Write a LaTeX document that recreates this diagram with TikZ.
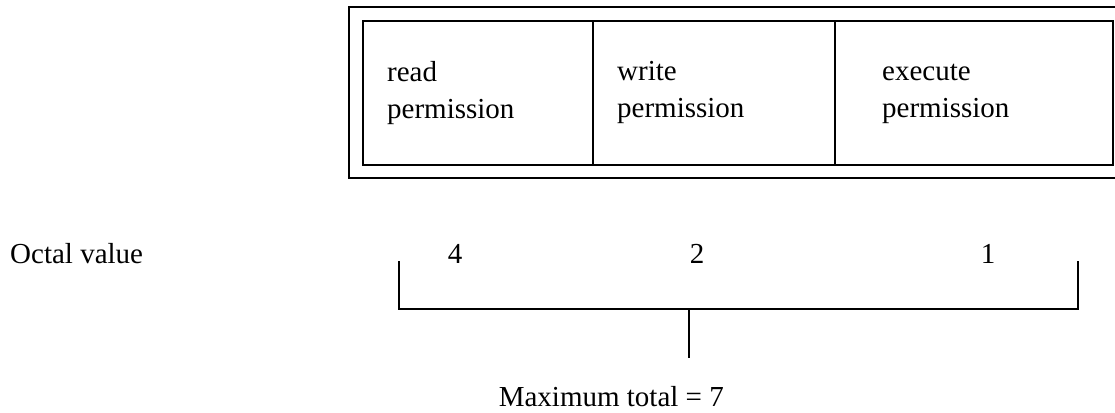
\documentclass[tikz,border=0pt]{standalone}
\usepackage{fontspec}
\setmainfont{Liberation Serif}
\begin{document}
\begin{tikzpicture}[x=1pt,y=-1pt,
  rule/.style={line width=1.7pt},
  cell/.style={draw, rule, rectangle, inner sep=0pt, anchor=north west,
    minimum height=144pt},
  txt/.style={font=\fontsize{29}{37}\selectfont, inner sep=0pt},
  lbl/.style={txt, anchor=base west, align=left},
  num/.style={txt, anchor=base}]
\useasboundingbox (0,0) rectangle (1115,412);

% outer frame (runs off the right edge)
\draw[rule, line join=miter] (1120,7) -- (349,7) -- (349,178) -- (1120,178);

% permission cells
\node[cell, minimum width=230pt] (rd) at (362,20) {};
\node[cell, minimum width=242pt] (wr) at (592,20) {};
\node[cell, minimum width=278pt] (ex) at (834,20) {};

% cell captions, placed by the baseline of their last line
\node[lbl] (trd) at (387,118) {read\\permission};
\node[lbl] (twr) at (617,117) {write\\permission};
\node[lbl] (tex) at (882,117) {execute\\permission};

% octal values
\node[lbl] (oct) at (10,263) {Octal value};
\node[num] (n4) at (455,263) {4};
\node[num] (n2) at (697,263) {2};
\node[num] (n1) at (988,263) {1};

% summing bracket
\coordinate (bl) at (399,261);
\coordinate (blc) at (399,309);
\coordinate (brc) at (1078,309);
\coordinate (br) at (1078,261);
\coordinate (stop) at (689,309);
\coordinate (send) at (689,358);
\draw[rule, line join=miter] (bl) -- (blc) -- (brc) -- (br);
\draw[rule] (stop) -- (send);

\node[num, anchor=base east] (mx) at (724,406) {Maximum total = 7};
\end{tikzpicture}
\end{document}
